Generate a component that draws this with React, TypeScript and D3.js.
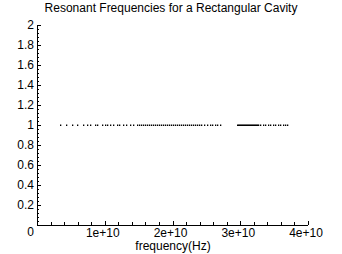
import React from "react";
import * as d3 from "d3";

const title = "Resonant Frequencies for a Rectangular Cavity";
const xLabel = "frequency(Hz)";
const yTicks = [0, 0.2, 0.4, 0.6, 0.8, 1, 1.2, 1.4, 1.6, 1.8, 2];
const yTickLabels = ["0", "0.2", "0.4", "0.6", "0.8", "1", "1.2", "1.4", "1.6", "1.8", "2"];
const xTicks = [1e10, 2e10, 3e10, 4e10];
const xTickLabels = ["1e+10", "2e+10", "3e+10", "4e+10"];
// resonant frequencies in GHz, all plotted at y = 1
const freqsGHz = [
  3.39, 4.28, 5.17, 5.9, 6.79, 7.38, 7.82, 8.56, 8.86, 9.59, 10.04, 10.33, 10.77, 11.22,
  11.81, 12.1, 12.69, 13.14, 13.73, 14.17, 14.76, 15.06, 15.35, 15.65, 15.94, 16.24,
  16.53, 16.83, 17.12, 17.42, 17.71, 18.01, 18.3, 18.6, 18.89, 19.19, 19.48, 19.78,
  20.07, 20.37, 20.66, 20.96, 21.25, 21.55, 21.85, 22.14, 22.44, 22.73, 23.03, 23.32,
  23.62, 23.91, 24.21, 24.65, 25.09, 25.54, 25.83, 26.27, 26.57, 27.01,
  29.5, 29.65, 29.8, 29.95, 30.1, 30.25, 30.4, 30.55, 30.7, 30.85, 31.0, 31.15, 31.3,
  31.45, 31.6, 31.75, 31.9, 32.05, 32.2, 32.35, 32.5, 32.62, 32.91, 33.36, 33.65,
  34.1, 34.39, 34.83, 35.13, 35.57, 35.87, 36.31, 36.61, 36.9,
];
const yValue = 1;

export default function App() {
  const W = 342;
  const H = 254;
  const x = d3.scaleLinear().domain([0, 4e10]).range([37, 308]);
  const y = d3.scaleLinear().domain([0, 2]).range([225, 25]);
  const font = "'Liberation Sans', Arial, sans-serif";
  const yMinor = d3.range(0, 2.0001, 0.04);
  const xMinor = d3.range(0, 4e10 + 1, 2e9);
  return (
    <svg width={W} height={H} style={{ position: "absolute", left: 0, top: 0, background: "#fff" }}
      fontFamily={font}>
      <rect width={W} height={H} fill="#fff" />
      <text x={171} y={12} textAnchor="middle" fontSize={12}>{title}</text>
      <line x1={x(0)} x2={x(0)} y1={y(2)} y2={y(0)} stroke="#000" strokeWidth={1} shapeRendering="crispEdges" />
      <line x1={x(0)} x2={x(4e10)} y1={y(0)} y2={y(0)} stroke="#000" strokeWidth={1} shapeRendering="crispEdges" />
      {yMinor.map((v, i) => {
        const major = i % 5 === 0;
        return (
          <line key={"ym" + i} x1={x(0)} x2={x(0) + (major ? 4 : 2)} y1={Math.round(y(v)) + 0.5} y2={Math.round(y(v)) + 0.5}
            stroke="#000" strokeWidth={1} />
        );
      })}
      {xMinor.map((v, i) => {
        const major = i % 5 === 0;
        return (
          <line key={"xm" + i} x1={Math.round(x(v)) + 0.5} x2={Math.round(x(v)) + 0.5} y1={y(0)} y2={y(0) - (major ? 4 : 3)}
            stroke="#000" strokeWidth={1} />
        );
      })}
      {yTicks.map((v, i) => (
        <text key={"yl" + i} x={34} y={v === 0 ? 236 : y(v) + 4} textAnchor="end" fontSize={12}>
          {yTickLabels[i]}
        </text>
      ))}
      {xTicks.map((v, i) => (
        <text key={"xl" + i} x={x(v) - 2} y={237} textAnchor="middle" fontSize={12}>
          {xTickLabels[i]}
        </text>
      ))}
      <text x={173} y={250} textAnchor="middle" fontSize={12}>{xLabel}</text>
      {freqsGHz.map((f, i) => (
        <rect key={"p" + i} x={Math.round(x(f * 1e9))} y={Math.round(y(yValue)) - 0.5} width={1.3} height={1.5} fill="#000" />
      ))}
    </svg>
  );
}
